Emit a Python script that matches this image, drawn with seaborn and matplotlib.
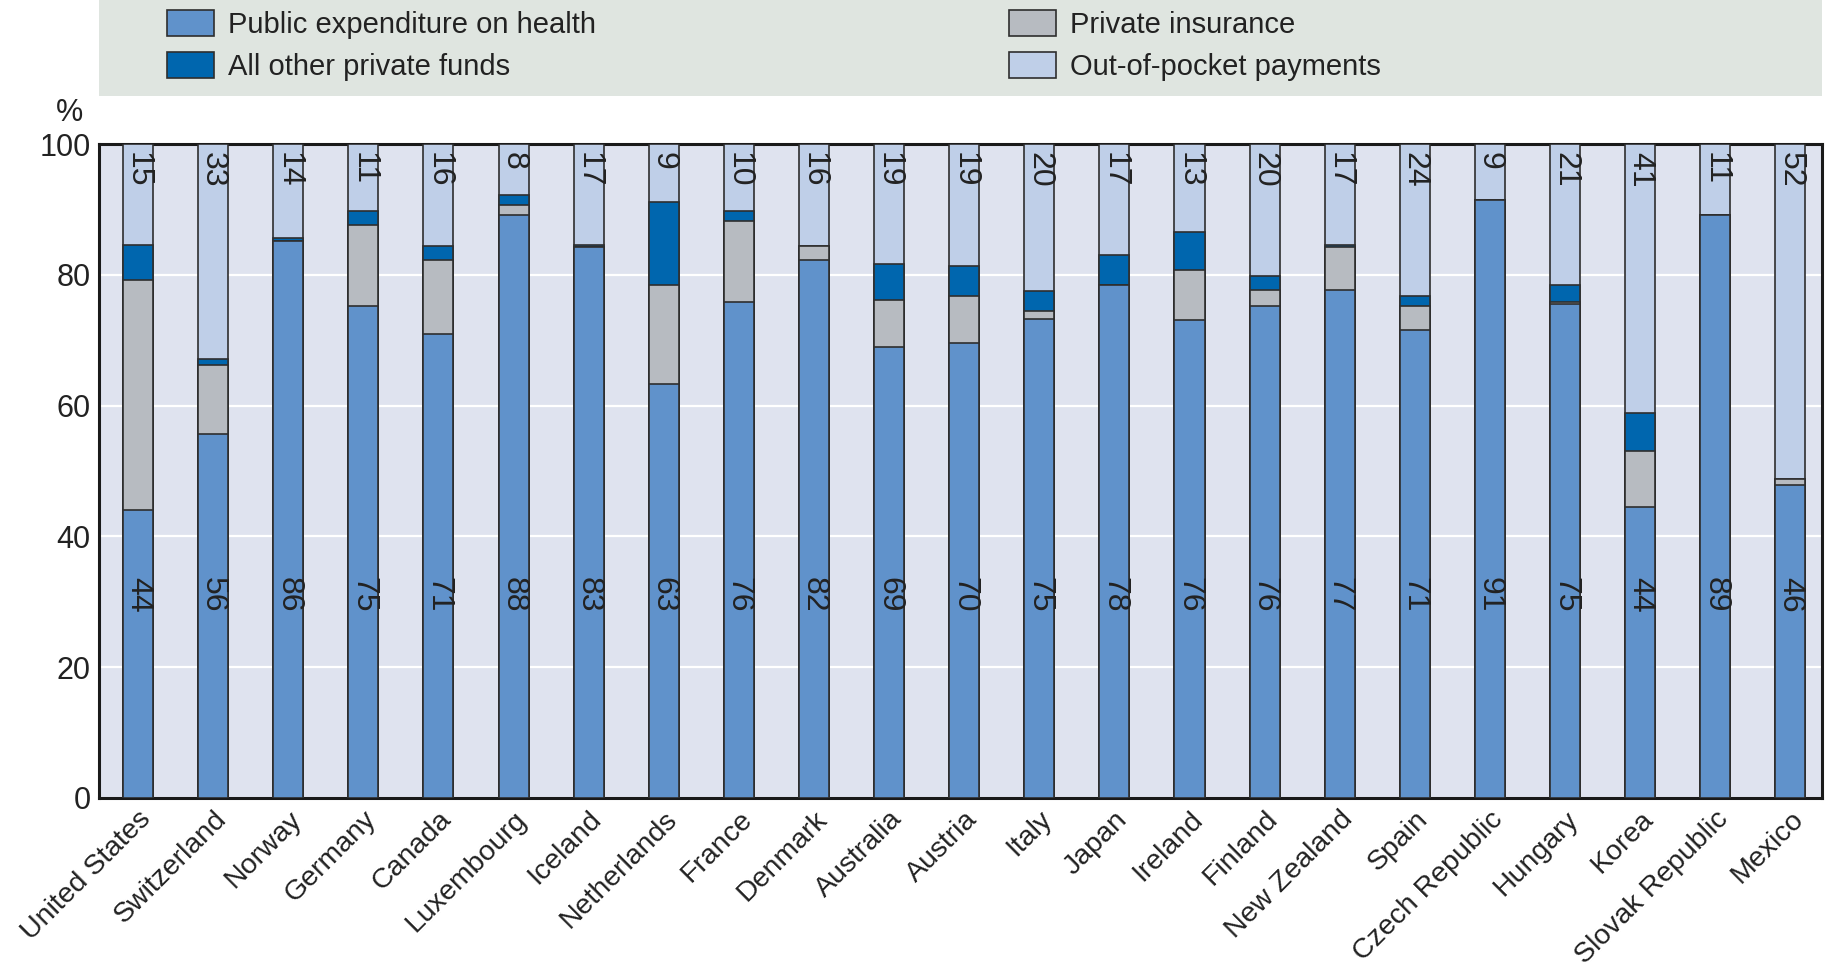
import matplotlib
matplotlib.use("Agg")
import matplotlib.pyplot as plt
import seaborn as sns
import pandas as pd
import numpy as np
from matplotlib.patches import Rectangle

countries = ["United States", "Switzerland", "Norway", "Germany", "Canada", "Luxembourg",
             "Iceland", "Netherlands", "France", "Denmark", "Australia", "Austria", "Italy",
             "Japan", "Ireland", "Finland", "New Zealand", "Spain", "Czech Republic",
             "Hungary", "Korea", "Slovak Republic", "Mexico"]
public = [44.0, 55.6, 85.2, 75.2, 70.9, 89.2, 84.3, 63.3, 75.9, 82.3, 68.9, 69.6, 73.3,
          78.5, 73.1, 75.2, 77.7, 71.6, 91.5, 75.5, 44.5, 89.1, 47.9]
private_ins = [35.2, 10.6, 0.0, 12.4, 11.4, 1.4, 0.0, 15.2, 12.4, 2.1, 7.3, 7.1, 1.1,
               0.0, 7.6, 2.5, 6.6, 3.7, 0.0, 0.4, 8.6, 0.0, 0.8]
other_priv = [5.4, 0.9, 0.4, 2.1, 2.1, 1.6, 0.3, 12.7, 1.4, 0.0, 5.4, 4.6, 3.1,
              4.6, 5.9, 2.1, 0.3, 1.5, 0.0, 2.6, 5.7, 0.0, 0.0]
oop = [15.4, 32.9, 14.4, 10.3, 15.6, 7.8, 15.4, 8.8, 10.3, 15.6, 18.4, 18.7, 22.5,
       16.9, 13.4, 20.2, 15.4, 23.2, 8.5, 21.5, 41.2, 10.9, 51.3]
public_labels = ["44", "56", "86", "75", "71", "88", "83", "63", "76", "82", "69", "70", "75",
                 "78", "76", "76", "77", "71", "91", "75", "44", "89", "46"]
oop_labels = ["15", "33", "14", "11", "16", "8", "17", "9", "10", "16", "19", "19", "20",
              "17", "13", "20", "17", "24", "9", "21", "41", "11", "52"]
legend_labels = ["Public expenditure on health", "All other private funds",
                 "Private insurance", "Out-of-pocket payments"]

c_public = "#6092cb"
c_other = "#0066ae"
c_ins = "#b7bbc1"
c_oop = "#bfcfe8"
edge = "#2e2e2e"

df = pd.DataFrame({"country": countries, "public": public, "ins": private_ins,
                   "other": other_priv, "oop": oop})
df["c1"] = df["public"]
df["c2"] = df["c1"] + df["ins"]
df["c3"] = df["c2"] + df["other"]
df["c4"] = df["c3"] + df["oop"]

sns.set_theme(style="white")
plt.rcParams["font.family"] = ["Liberation Sans", "DejaVu Sans"]

fig = plt.figure(figsize=(18.32, 9.73), dpi=100)
ax = fig.add_axes([0.054, 0.180, 0.9405, 0.672])
ax.set_facecolor("#dfe3ef")

for col, color in [("c4", c_oop), ("c3", c_other), ("c2", c_ins), ("c1", c_public)]:
    sns.barplot(data=df, x="country", y=col, order=countries, color=color,
                width=0.4, edgecolor=edge, linewidth=1.2, saturation=1, ax=ax, zorder=3)

ax.set_ylim(0, 100)
ax.set_xlim(-0.52, len(countries) - 0.58)
ax.set_yticks([0, 20, 40, 60, 80, 100])
ax.yaxis.grid(True, color="white", linewidth=1.6, zorder=0)
ax.set_axisbelow(True)
ax.set_xlabel("")
ax.set_ylabel("")
for s in ax.spines.values():
    s.set_color("#1a1a1a")
    s.set_linewidth(2.2)
    s.set_visible(True)
ax.tick_params(axis="both", length=0, labelsize=22, colors="#222222", pad=6)
ax.set_xticks(range(len(countries)))
ax.set_xticklabels(countries, rotation=45, ha="right", rotation_mode="anchor", fontsize=20.5)
ax.tick_params(axis="x", pad=6)

for i in range(len(countries)):
    ax.text(i, 31, public_labels[i], rotation=-90, ha="center", va="center",
            fontsize=23, color="#222222", zorder=5)
    ax.text(i, 98.8, oop_labels[i], rotation=-90, ha="center", va="top",
            fontsize=23, color="#222222", zorder=5)

fig.text(0.0455, 0.884, "%", ha="right", va="center", fontsize=22, color="#222222")

# legend panel
fig.patches.append(Rectangle((0.054, 0.901), 0.9405, 0.099, transform=fig.transFigure,
                             facecolor="#dfe5e0", edgecolor="none", zorder=0))
leg_items = [(0.0912, 0.976, c_public, legend_labels[0]),
             (0.0912, 0.933, c_other, legend_labels[1]),
             (0.5508, 0.976, c_ins, legend_labels[2]),
             (0.5508, 0.933, c_oop, legend_labels[3])]
pw, ph = 0.0257, 0.0267
for x, y, c, lab in leg_items:
    fig.patches.append(Rectangle((x, y - ph / 2), pw, ph, transform=fig.transFigure,
                                 facecolor=c, edgecolor=edge, linewidth=1.2, zorder=2))
    fig.text(x + pw + 0.0075, y - 0.002, lab, ha="left", va="center", fontsize=21,
             color="#222222")

fig.savefig("out.png", dpi=100)
